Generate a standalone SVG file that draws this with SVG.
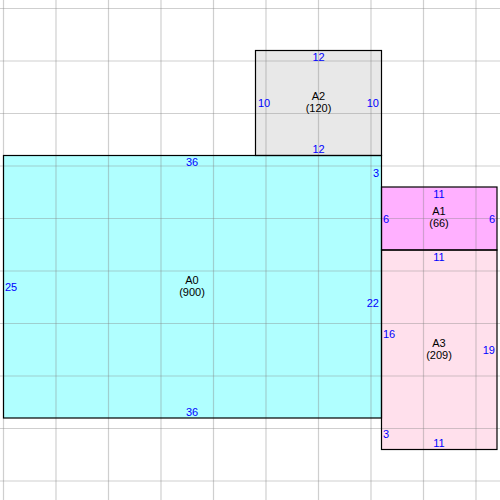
<svg xmlns="http://www.w3.org/2000/svg" width="500" height="500" viewBox="0 0 500 500">
<style>
.r{stroke:#000;stroke-width:1.2}
.g line{stroke:#808080;stroke-opacity:0.38;stroke-width:1.2}
text{font-family:"Liberation Sans",Arial,sans-serif;font-size:11px}
.d{fill:#0000ff}
.n{fill:#000;text-anchor:middle}
.m{text-anchor:middle}
.e{text-anchor:end}
</style>
<rect width="500" height="500" fill="#fff"/>
<g id="fills">
<rect x="3.5" y="155.5" width="378" height="262.5" fill="#b0ffff"/>
<rect x="255.5" y="50.5" width="126" height="105" fill="#e8e8e8"/>
<rect x="381.5" y="187" width="115.5" height="63" fill="#ffb0ff"/>
<rect x="381.5" y="250" width="115.5" height="199.5" fill="#ffe0ec"/>
</g>
<g class="g" id="grid">
<line x1="3.5" y1="0" x2="3.5" y2="500"/>
<line x1="56" y1="0" x2="56" y2="500"/>
<line x1="108.5" y1="0" x2="108.5" y2="500"/>
<line x1="161" y1="0" x2="161" y2="500"/>
<line x1="213.5" y1="0" x2="213.5" y2="500"/>
<line x1="266" y1="0" x2="266" y2="500"/>
<line x1="318.5" y1="0" x2="318.5" y2="500"/>
<line x1="371" y1="0" x2="371" y2="500"/>
<line x1="423.5" y1="0" x2="423.5" y2="500"/>
<line x1="476" y1="0" x2="476" y2="500"/>
<line x1="0" y1="8.5" x2="500" y2="8.5"/>
<line x1="0" y1="61" x2="500" y2="61"/>
<line x1="0" y1="113.5" x2="500" y2="113.5"/>
<line x1="0" y1="166" x2="500" y2="166"/>
<line x1="0" y1="218.5" x2="500" y2="218.5"/>
<line x1="0" y1="271" x2="500" y2="271"/>
<line x1="0" y1="323.5" x2="500" y2="323.5"/>
<line x1="0" y1="376" x2="500" y2="376"/>
<line x1="0" y1="428.5" x2="500" y2="428.5"/>
<line x1="0" y1="481" x2="500" y2="481"/>
</g>
<g id="A0">
<rect class="r" x="3.5" y="155.5" width="378" height="262.5" fill="none"/>
<text class="d m" x="192" y="166">36</text>
<text class="d m" x="192" y="416">36</text>
<text class="d" x="5" y="291">25</text>
<text class="d e" x="379" y="177">3</text>
<text class="d e" x="379" y="307">22</text>
<text class="n" x="192" y="284">A0</text>
<text class="n" x="192" y="296">(900)</text>
</g>
<g id="A2">
<rect class="r" x="255.5" y="50.5" width="126" height="105" fill="none"/>
<text class="d m" x="318.5" y="61">12</text>
<text class="d m" x="318.5" y="153">12</text>
<text class="d" x="258" y="107">10</text>
<text class="d e" x="379" y="107">10</text>
<text class="n" x="318.5" y="100">A2</text>
<text class="n" x="318.5" y="112">(120)</text>
</g>
<g id="A1">
<rect class="r" x="381.5" y="187" width="115.5" height="63" fill="none"/>
<text class="d m" x="439" y="198">11</text>
<text class="d" x="383" y="223">6</text>
<text class="d e" x="495" y="223">6</text>
<text class="n" x="439" y="215">A1</text>
<text class="n" x="439" y="227">(66)</text>
</g>
<g id="A3">
<rect class="r" x="381.5" y="250" width="115.5" height="199.5" fill="none"/>
<text class="d m" x="439" y="261">11</text>
<text class="d m" x="439" y="447">11</text>
<text class="d" x="383" y="338">16</text>
<text class="d" x="383" y="438">3</text>
<text class="d e" x="495" y="354">19</text>
<text class="n" x="439" y="347">A3</text>
<text class="n" x="439" y="359">(209)</text>
</g>
</svg>
